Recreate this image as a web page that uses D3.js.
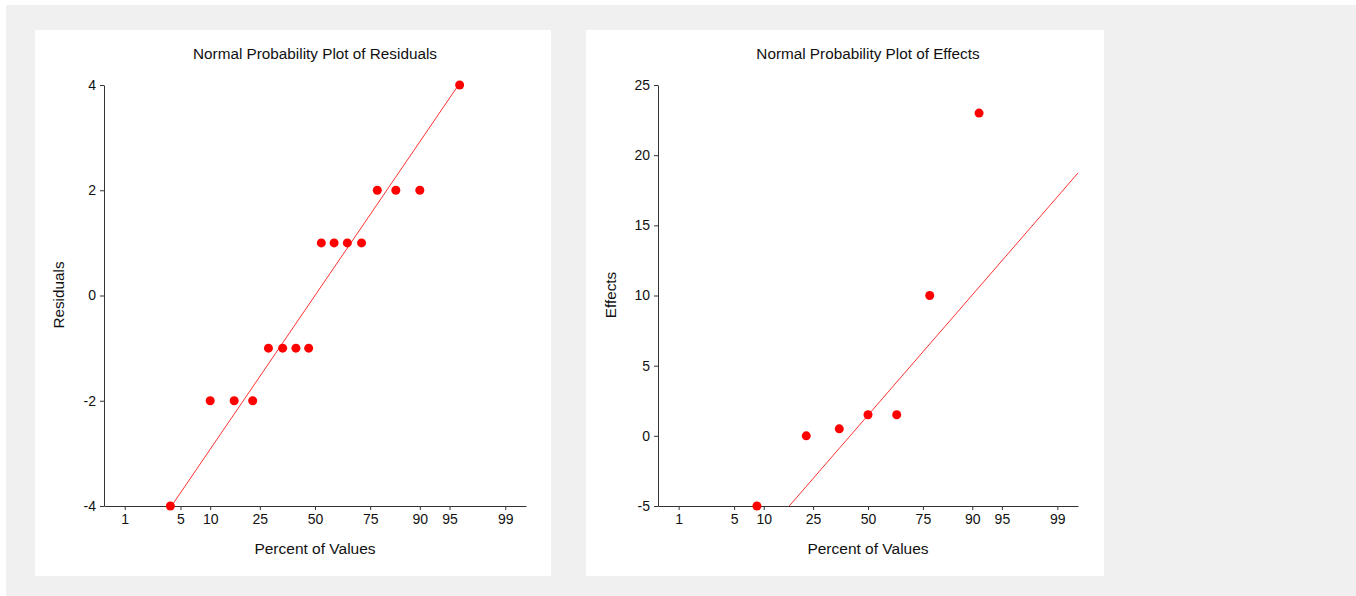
<!DOCTYPE html>
<html><head><meta charset="utf-8">
<script src="https://cdn.jsdelivr.net/npm/d3@7"></script>
<style>body{margin:0;background:#fff}svg{display:block;font-family:"Liberation Sans",Arial,sans-serif}</style>
</head><body><svg id="c" width="1356" height="596"></svg>
<script>
// ---- data ----
const percentTicks = [1, 5, 10, 25, 50, 75, 90, 95, 99];
const residualPercents = [3.85, 10.0, 16.15, 22.31, 28.46, 34.62, 40.77, 46.92, 53.08, 59.23, 65.38, 71.54, 77.69, 83.85, 90.0, 96.15];
const residualValues = [-4, -2, -2, -2, -1, -1, -1, -1, 1, 1, 1, 1, 2, 2, 2, 4];
const residualTicks = [-4, -2, 0, 2, 4];
const residualLine = {intercept: 0, slope: 2.28};
const effectPercents = [8.62, 22.41, 36.21, 50, 63.79, 77.59, 91.38];
const effectValues = [-5, 0, 0.5, 1.5, 1.5, 10, 23];
const effectTicks = [-5, 0, 5, 10, 15, 20, 25];
const effectLine = {intercept: 1.47, slope: 6.69};

// inverse normal CDF (Acklam)
function qnorm(p){
  const a=[-39.69683028665376,220.9460984245205,-275.9285104469687,138.3577518672690,-30.66479806614716,2.506628277459239];
  const b=[-54.47609879822406,161.5858368580409,-155.6989798598866,66.80131188771972,-13.28068155288572];
  const c=[-0.007784894002430293,-0.3223964580411365,-2.400758277161838,-2.549732539343734,4.374664141464968,2.938163982698783];
  const d=[0.007784695709041462,0.3224671290700398,2.445134137142996,3.754408661907416];
  const pl=0.02425;let q,r;
  if(p<pl){q=Math.sqrt(-2*Math.log(p));return (((((c[0]*q+c[1])*q+c[2])*q+c[3])*q+c[4])*q+c[5])/((((d[0]*q+d[1])*q+d[2])*q+d[3])*q+1);}
  if(p>1-pl){q=Math.sqrt(-2*Math.log(1-p));return -(((((c[0]*q+c[1])*q+c[2])*q+c[3])*q+c[4])*q+c[5])/((((d[0]*q+d[1])*q+d[2])*q+d[3])*q+1);}
  q=p-0.5;r=q*q;return (((((a[0]*r+a[1])*r+a[2])*r+a[3])*r+a[4])*r+a[5])*q/(((((b[0]*r+b[1])*r+b[2])*r+b[3])*r+b[4])*r+1);
}

const svg = d3.select("#c");
svg.append("rect").attr("x",6).attr("y",5).attr("width",1350).attr("height",591).attr("fill","#f0f0f0");

function panel(cfg){
  const g = svg.append("g");
  g.append("rect").attr("x",cfg.px).attr("y",30).attr("width",cfg.pw).attr("height",546).attr("fill","#fff");
  const zmax = 2.58;
  const x = d3.scaleLinear().domain([-zmax, zmax]).range([cfg.x0, cfg.x1]);
  const y = d3.scaleLinear().domain(cfg.ydom).range([506, 85]);
  const id = "clip"+cfg.key;
  svg.append("defs").append("clipPath").attr("id",id).append("rect")
    .attr("x",cfg.x0).attr("y",85).attr("width",cfg.x1-cfg.x0).attr("height",421);

  // axes
  const xa = d3.axisBottom(x).tickValues(percentTicks.map(p=>qnorm(p/100)))
    .tickFormat((d,i)=>String(percentTicks[i])).tickSize(4).tickSizeOuter(0).tickPadding(4);
  const ga = g.append("g").attr("transform","translate(0,506)").call(xa);
  const ya = d3.axisLeft(y).tickValues(cfg.yticks).tickFormat(d=>String(d)).tickSize(4).tickSizeOuter(0).tickPadding(4);
  const gy = g.append("g").attr("transform",`translate(${cfg.x0},0)`).call(ya);
  [ga,gy].forEach(a=>{
    a.selectAll("path").attr("stroke","#333");
    a.selectAll("line").attr("stroke","#333");
    a.selectAll("text").attr("font-size",14).attr("fill","#111").attr("font-family","Liberation Sans, Arial, sans-serif");
  });

  // fit line
  const ln = cfg.line;
  g.append("line").attr("clip-path",`url(#${id})`)
    .attr("x1",x(-zmax)).attr("y1",y(ln.intercept+ln.slope*(-zmax)))
    .attr("x2",x(zmax)).attr("y2",y(ln.intercept+ln.slope*zmax))
    .attr("stroke","#ff3333").attr("stroke-width",1);

  // points
  g.selectAll("circle.pt").data(cfg.values).enter().append("circle")
    .attr("cx",(d,i)=>x(qnorm(cfg.percents[i]/100))).attr("cy",d=>y(d))
    .attr("r",4.5).attr("fill","#ff0000");

  const cx = x(0);
  g.append("text").attr("x",cx).attr("y",59).attr("text-anchor","middle").attr("font-size",15.3).attr("fill","#111").text(cfg.title);
  g.append("text").attr("x",cx).attr("y",554).attr("text-anchor","middle").attr("font-size",15.5).attr("fill","#111").text("Percent of Values");
  g.append("text").attr("transform",`translate(${cfg.yl},295) rotate(-90)`).attr("text-anchor","middle").attr("font-size",15.3).attr("fill","#111").text(cfg.ylabel);
}

panel({key:"L",px:35,pw:516,x0:104,x1:526,ydom:[-4,4],yticks:residualTicks,line:residualLine,
  values:residualValues,percents:residualPercents,title:"Normal Probability Plot of Residuals",ylabel:"Residuals",yl:64});
panel({key:"R",px:586,pw:518,x0:658,x1:1078,ydom:[-5,25],yticks:effectTicks,line:effectLine,
  values:effectValues,percents:effectPercents,title:"Normal Probability Plot of Effects",ylabel:"Effects",yl:616});
</script></body></html>
